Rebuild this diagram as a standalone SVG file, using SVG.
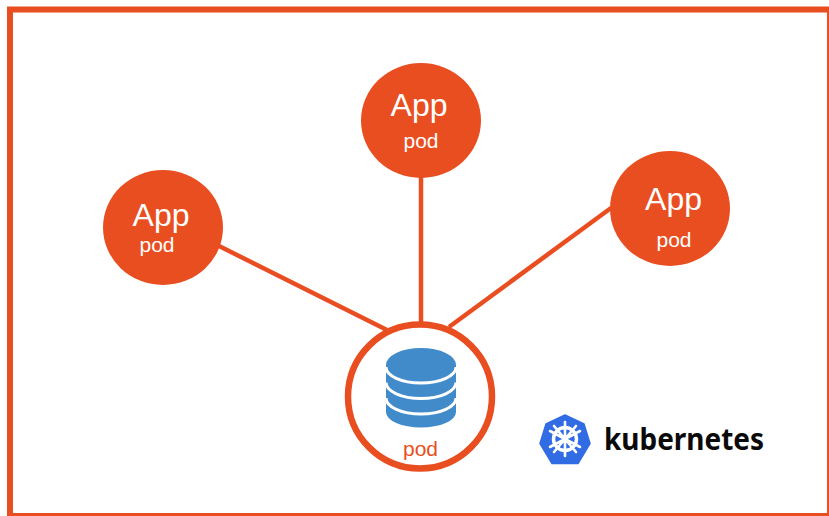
<svg xmlns="http://www.w3.org/2000/svg" width="829" height="516" viewBox="0 0 829 516">
<style>
.app{fill:#e94e21}
.t{font-family:"Liberation Sans",Arial,sans-serif;fill:#fff;text-anchor:middle}
.l{font-size:32px}
.s{font-size:21px}
.c{stroke:#e94e21;stroke-width:4.5;fill:none}
</style>
<rect id="frame" x="10" y="9.5" width="820" height="506.5" fill="#fff" stroke="#e94e21" stroke-width="6"/>
<g id="connectors">
<line class="c" x1="219" y1="246" x2="387" y2="330"/>
<line class="c" x1="421" y1="176" x2="421" y2="324"/>
<line class="c" x1="611" y1="208" x2="449" y2="327"/>
</g>
<g id="app-left">
<ellipse class="app" cx="163" cy="227.500" rx="60" ry="57.500"/>
<text class="t l" x="161" y="226">App</text>
<text class="t s" x="157" y="252">pod</text>
</g>
<g id="app-top">
<ellipse class="app" cx="421" cy="120.500" rx="60" ry="57.500"/>
<text class="t l" x="419" y="116">App</text>
<text class="t s" x="421" y="148">pod</text>
</g>
<g id="app-right">
<ellipse class="app" cx="670" cy="208.500" rx="60" ry="57.500"/>
<text class="t l" x="673.500" y="210">App</text>
<text class="t s" x="674" y="247">pod</text>
</g>
<g id="db-pod">
<circle cx="420" cy="396.500" r="72" fill="#fff" stroke="#e94e21" stroke-width="6.500"/>
<path d="M386 365A35 17 0 0 1 456 365V412A35 15.500 0 0 1 386 412Z" fill="#428bca"/>
<g fill="none" stroke="#fff" stroke-width="3">
<path d="M386 367A35 16 0 0 0 456 367"/>
<path d="M386 382.500A35 16 0 0 0 456 382.500"/>
<path d="M386 398A35 16 0 0 0 456 398"/>
</g>
<text x="420.500" y="456" font-family="'Liberation Sans',Arial,sans-serif" font-size="21" fill="#e94e21" text-anchor="middle">pod</text>
</g>
<g id="kubernetes-logo">
<path d="M565 415L584 424L590 443.500L578 463.500H552L540 443.500L546 424Z" fill="#326ce5" stroke="#326ce5" stroke-width="1.500" stroke-linejoin="round"/>
<circle cx="565" cy="439" r="11.500" fill="none" stroke="#fff" stroke-width="3.500"/>
<path d="M565 422V456M550 431L580 447M580 431L550 447M554 452L576 426M576 452L554 426" stroke="#fff" stroke-width="2.600" stroke-linecap="round"/>
<circle cx="565" cy="439" r="3" fill="#fff"/>
<text x="604" y="450" font-family="'Noto Sans','DejaVu Sans',sans-serif" font-size="31" font-weight="700" fill="#0a0a0a" textLength="160" lengthAdjust="spacingAndGlyphs">kubernetes</text>
</g>
</svg>
